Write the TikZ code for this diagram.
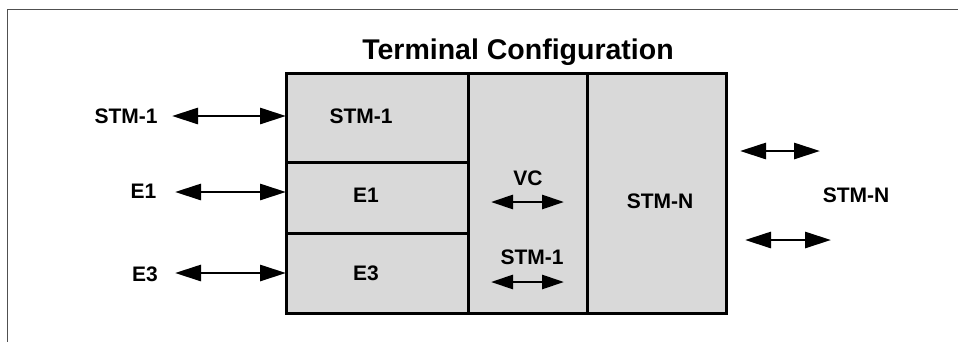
\documentclass[tikz,border=0pt]{standalone}
\usepackage{fontspec}
\setmainfont{Liberation Sans}
\usetikzlibrary{arrows.meta}
\definecolor{cellgray}{HTML}{D9D9D9}
\definecolor{framegray}{HTML}{505050}
\begin{document}
\begin{tikzpicture}[x=1pt,y=-1pt,
  cell/.style={draw=black, fill=cellgray, line width=3pt, anchor=north west, inner sep=0pt, outer sep=0pt},
  lbl/.style={font=\fontsize{21}{25}\selectfont\bfseries, inner sep=0pt},
  biarrow/.style={line width=2.8pt, {Triangle[length=26pt,width=16pt]}-{Triangle[length=26pt,width=16pt]}},
  smallarrow/.style={line width=2.8pt, {Triangle[length=22pt,width=14pt]}-{Triangle[length=22pt,width=14pt]}}]
\useasboundingbox (0,0) rectangle (958,341);
% frame
\draw[framegray, line width=1.5pt] (7.5,345) -- (7.5,9.5) -- (962,9.5);
% title
\node[font=\fontsize{28.5}{32}\selectfont\bfseries, inner sep=0pt, anchor=base] (title) at (518,59) {Terminal Configuration};
% cells
\node[cell, minimum width=182pt, minimum height=89pt] (stmcell) at (286,73) {};
\node[cell, minimum width=182pt, minimum height=71pt] (e1cell) at (286,162) {};
\node[cell, minimum width=182pt, minimum height=80pt] (e3cell) at (286,233) {};
\node[cell, minimum width=119pt, minimum height=240pt] (vccell) at (468,73) {};
\node[cell, minimum width=139pt, minimum height=240pt] (stmncell) at (587,73) {};
% inside labels
\node[lbl] (in1) at (361,116) {STM-1};
\node[lbl] (in2) at (366,195) {E1};
\node[lbl] (in3) at (366,273) {E3};
\node[lbl] (vc) at (528,178) {VC};
\node[lbl] (vcstm) at (532,257) {STM-1};
\node[lbl] (stmn) at (660,201) {STM-N};
% outside labels
\node[lbl] (l1) at (126,116) {STM-1};
\node[lbl] (l2) at (143.5,191.5) {E1};
\node[lbl] (l3) at (145,274) {E3};
\node[lbl] (r1) at (856,195) {STM-N};
% coordinates for free arrow ends
\coordinate (a1s) at (172,116);
\coordinate (a2s) at (175,192);
\coordinate (a3s) at (175,273);
\coordinate (vcs) at (491,202);
\coordinate (vce) at (564,202);
\coordinate (sts) at (491,282);
\coordinate (ste) at (564,282);
\coordinate (rts) at (740,151);
\coordinate (rte) at (820,151);
\coordinate (rbs) at (745,240);
\coordinate (rbe) at (831,240);
% arrows
\draw[biarrow] (a1s) -- (a1s -| stmcell.west);
\draw[biarrow] (a2s) -- (a2s -| e1cell.west);
\draw[biarrow] (a3s) -- (a3s -| e3cell.west);
\draw[smallarrow] (vcs) -- (vce);
\draw[smallarrow] (sts) -- (ste);
\draw[biarrow] (rts) -- (rte);
\draw[biarrow] (rbs) -- (rbe);
\end{tikzpicture}
\end{document}
